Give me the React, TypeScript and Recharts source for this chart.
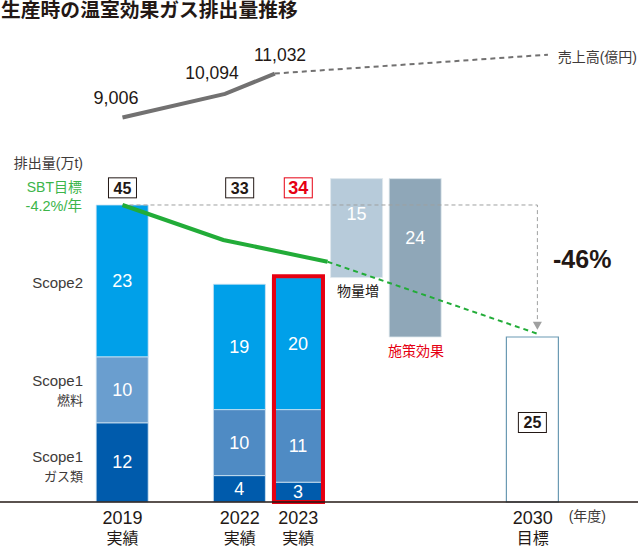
import { Bar, Cell, ComposedChart, LabelList, Line, ReferenceDot, XAxis, YAxis } from "recharts";

const FONT = '"Liberation Sans", "Noto Sans CJK JP", sans-serif';
const INK = "#231815";
const LABEL = "#3e3a39";
const GREEN = "#22ac38";
const RED = "#e60012";

// x is a slot number, one slot per bar width
const slots = [0, 2, 3, 4, 5, 7];
const base = [null, null, null, 34, 25, null];
const gas = [12, 4, 3, null, null, null];
const fuel = [10, 10, 11, null, null, null];
const scope2 = [23, 19, 20, null, null, null];
const bridge = [null, null, null, 15, 24, null];
const target = [null, null, null, null, null, 25];
const highlight = [null, null, [0, 34.2], null, null, null];

const fuelColors = ["#6a9ecf", "#4f8bc4", "#4f8bc4"];
const bridgeColors = ["#b7cbda", "#8fa7b8"];

const totals = [
  { slot: 0, value: 45, color: INK, size: 16 },
  { slot: 2, value: 33, color: INK, size: 16 },
  { slot: 3, value: 34, color: RED, size: 18 },
];

const tickSlots = [0, 2, 3, 7];
const tickYears = ["2019", "2022", "2023", "2030"];
const tickKinds = ["実績", "実績", "実績", "目標"];

const salesX = [0, 1.75, 2.6];
const salesValues = [9006, 10094, 11032];
const salesForecastX = [2.6, 7.26];
const salesForecastValues = [11032, 11900];

const sbtX = [0, 1.72, 3.5];
const sbtValues = [45, 39.7, 36.4];
const sbtForecastX = [3.5, 7.08];
const sbtForecastValues = [36.4, 25.5];

const gapX = [0, 7.08, 7.08];
const gapValues = [45, 45, 27];

const chartData = slots.map((slot, i) => ({
  slot,
  base: base[i],
  gas: gas[i],
  fuel: fuel[i],
  scope2: scope2[i],
  bridge: bridge[i],
  target: target[i],
  highlight: highlight[i],
}));

const zip = (xs: number[], ys: number[]) => xs.map((slot, i) => ({ slot, y: ys[i] }));

const labelShift: Record<number, number> = { 15: -14, 24: -20 };

function BarValue(props: any) {
  const { x, y, width, height, value } = props;
  if (value == null) return null;
  const dy = labelShift[value] ?? 0;
  return (
    <text x={x + width / 2} y={y + height / 2 + dy + 6} textAnchor="middle" fontSize={18} fill="#fff" fontFamily={FONT}>
      {value}
    </text>
  );
}

function BoxedValue({ cx, cy, value, color, size = 16 }: any) {
  return (
    <g>
      <rect x={cx - 14} y={cy - 10} width={28} height={20} fill="#fff" stroke={color} strokeWidth={1} />
      <text x={cx} y={cy + 6} textAnchor="middle" fontSize={size} fontWeight="bold" fill={color} fontFamily={FONT}>
        {value}
      </text>
    </g>
  );
}

function TargetValue(props: any) {
  const { x, y, width, height, value } = props;
  if (value == null) return null;
  return <BoxedValue cx={x + width / 2} cy={y + height / 2 + 3} value={value} color={INK} />;
}

function YearTick({ x, y, payload, index }: any) {
  return (
    <g fontFamily={FONT} fill={INK} textAnchor="middle">
      <text x={x} y={y + 14} fontSize={18}>
        {tickYears[index] ?? payload.value}
      </text>
      <text x={x} y={y + 34} fontSize={16}>
        {tickKinds[index]}
      </text>
    </g>
  );
}

function ArrowHead({ cx, cy, index }: any) {
  if (index !== gapX.length - 1) return <g key={index} />;
  return <path key={index} d={`M${cx - 4.5} ${cy - 2}L${cx + 4.5} ${cy - 2}L${cx} ${cy + 6}Z`} fill="#9fa0a0" />;
}

function Caption({ x, y, size = 14, color = LABEL, anchor = "end", weight, children }: any) {
  return (
    <text x={x} y={y} fontSize={size} fill={color} textAnchor={anchor} fontWeight={weight} fontFamily={FONT}>
      {children}
    </text>
  );
}

export default function App() {
  return (
    <div style={{ position: "absolute", left: 0, top: 0, width: 638, height: 548 }}>
      <ComposedChart width={638} height={548} data={chartData} margin={{ top: 0, right: 0, bottom: 0, left: 0 }}>
        <XAxis
          dataKey="slot"
          type="number"
          domain={[-2.09, 8.797]}
          ticks={tickSlots}
          interval={0}
          tick={<YearTick />}
          tickLine={false}
          height={46}
          axisLine={{ stroke: INK, strokeWidth: 1.5 }}
        />
        <XAxis xAxisId="frame" dataKey="slot" type="number" domain={[-2.09, 8.797]} hide />
        <XAxis xAxisId="lines" dataKey="slot" type="number" domain={[-2.09, 8.797]} hide />
        <YAxis yAxisId="t" hide domain={[0, 76.06]} />
        <YAxis yAxisId="sales" hide domain={[-8700, 14420]} />

        <Line
          xAxisId="lines"
          yAxisId="t"
          data={zip(gapX, gapValues)}
          dataKey="y"
          stroke="#9fa0a0"
          strokeWidth={1}
          strokeDasharray="4 3"
          dot={<ArrowHead />}
          activeDot={false}
          isAnimationActive={false}
        />

        <Bar yAxisId="t" dataKey="base" stackId="a" barSize={52} fill="none" isAnimationActive={false} />
        <Bar yAxisId="t" dataKey="gas" stackId="a" barSize={52} fill="#005bac" stroke="#cfe3f3" strokeWidth={0.8} isAnimationActive={false}>
          <LabelList dataKey="gas" content={<BarValue />} />
        </Bar>
        <Bar yAxisId="t" dataKey="fuel" stackId="a" barSize={52} stroke="#cfe3f3" strokeWidth={0.8} isAnimationActive={false}>
          {fuelColors.map((color, i) => (
            <Cell key={i} fill={color} />
          ))}
          <LabelList dataKey="fuel" content={<BarValue />} />
        </Bar>
        <Bar yAxisId="t" dataKey="scope2" stackId="a" barSize={52} fill="#00a0e9" stroke="#cfe3f3" strokeWidth={0.8} isAnimationActive={false}>
          <LabelList dataKey="scope2" content={<BarValue />} />
        </Bar>
        <Bar yAxisId="t" dataKey="bridge" stackId="a" barSize={52} stroke="#dfe8ee" strokeWidth={0.8} isAnimationActive={false}>
          {slots.map((slot, i) => (
            <Cell key={slot} fill={i === 4 ? bridgeColors[1] : bridgeColors[0]} />
          ))}
          <LabelList dataKey="bridge" content={<BarValue />} />
        </Bar>
        <Bar yAxisId="t" dataKey="target" stackId="a" barSize={53} fill="#fff" stroke="#6a9ab3" strokeWidth={1.2} isAnimationActive={false}>
          <LabelList dataKey="target" content={<TargetValue />} />
        </Bar>
        <Bar xAxisId="frame" yAxisId="t" dataKey="highlight" barSize={49} fill="none" stroke={RED} strokeWidth={4} isAnimationActive={false} />

        <Line xAxisId="lines" yAxisId="sales" data={zip(salesX, salesValues)} dataKey="y" stroke="#727171" strokeWidth={4} dot={false} activeDot={false} isAnimationActive={false} />
        <Line xAxisId="lines" yAxisId="sales" data={zip(salesForecastX, salesForecastValues)} dataKey="y" stroke="#727171" strokeWidth={2} strokeDasharray="5 4" dot={false} activeDot={false} isAnimationActive={false} />
        <Line xAxisId="lines" yAxisId="t" data={zip(sbtX, sbtValues)} dataKey="y" stroke={GREEN} strokeWidth={4} dot={false} activeDot={false} isAnimationActive={false} />
        <Line xAxisId="lines" yAxisId="t" data={zip(sbtForecastX, sbtForecastValues)} dataKey="y" stroke={GREEN} strokeWidth={2} strokeDasharray="5 4" dot={false} activeDot={false} isAnimationActive={false} />

        {totals.map((t) => (
          <ReferenceDot
            key={t.slot}
            yAxisId="t"
            x={t.slot}
            y={47.6}
            r={0}
            shape={(p: any) => <BoxedValue cx={p.cx} cy={p.cy} value={t.value} color={t.color} size={t.size} />}
          />
        ))}

        <Caption x={1} y={17} size={19.8} color={INK} anchor="start" weight="bold">生産時の温室効果ガス排出量推移</Caption>
        <Caption x={116} y={104} size={18} color={INK} anchor="middle">9,006</Caption>
        <Caption x={212} y={79} size={17.5} color={INK} anchor="middle">10,094</Caption>
        <Caption x={280} y={61} size={17.5} color={INK} anchor="middle">11,032</Caption>
        <Caption x={637} y={62}>売上高(億円)</Caption>
        <Caption x={83} y={168}>排出量(万t)</Caption>
        <Caption x={82} y={192} color="#3cb54a">SBT目標</Caption>
        <Caption x={82} y={211} size={14.5} color="#3cb54a">-4.2%/年</Caption>
        <Caption x={83} y={288} size={15}>Scope2</Caption>
        <Caption x={83} y={386} size={15}>Scope1</Caption>
        <Caption x={83} y={405} size={13}>燃料</Caption>
        <Caption x={83} y={462} size={15}>Scope1</Caption>
        <Caption x={83} y={481} size={13}>ガス類</Caption>
        <Caption x={358} y={296} color={INK} anchor="middle">物量増</Caption>
        <Caption x={416} y={356} color={RED} anchor="middle">施策効果</Caption>
        <Caption x={553} y={268} size={25} color={INK} anchor="start" weight="bold">-46%</Caption>
        <Caption x={606} y={521}>(年度)</Caption>
      </ComposedChart>
    </div>
  );
}
